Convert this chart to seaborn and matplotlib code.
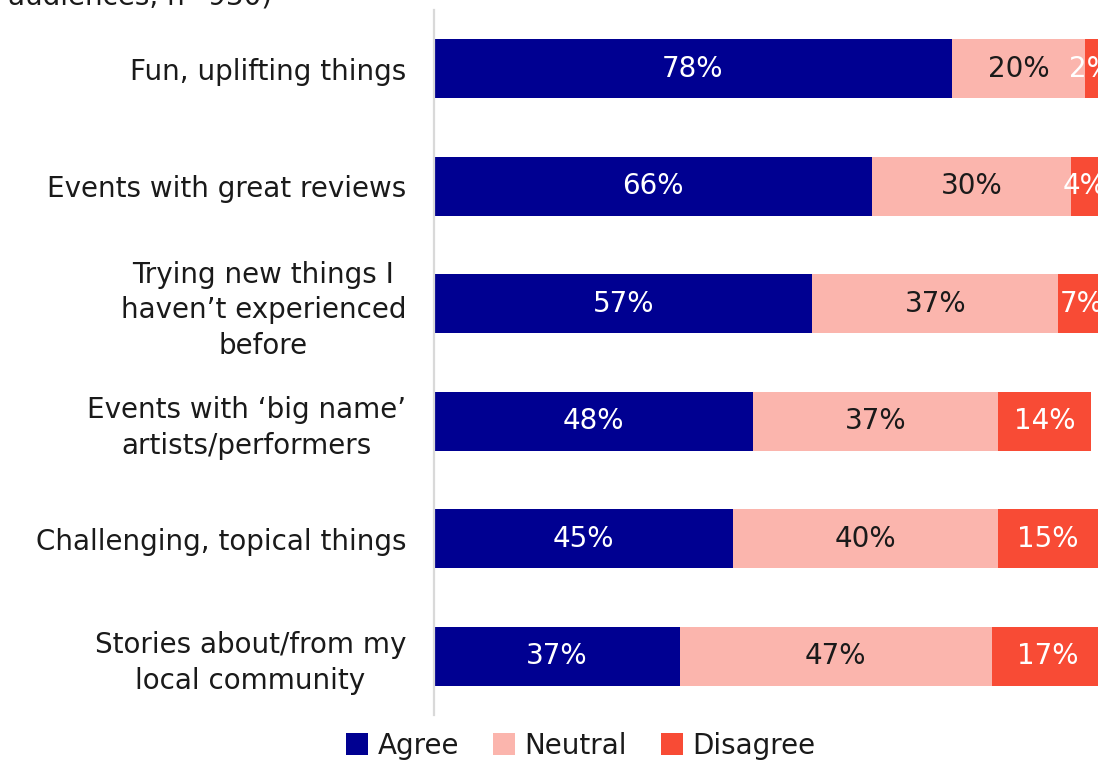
import matplotlib
matplotlib.use("Agg")
import matplotlib.pyplot as plt
from matplotlib.lines import Line2D
import seaborn as sns
import pandas as pd

categories = [
    "Fun, uplifting things",
    "Events with great reviews",
    "Trying new things I\nhaven\u2019t experienced\nbefore",
    "Events with \u2018big name\u2019\nartists/performers",
    "Challenging, topical things",
    "Stories about/from my\nlocal community",
]
agree = [78, 66, 57, 48, 45, 37]
neutral = [20, 30, 37, 37, 40, 47]
disagree = [2, 4, 7, 14, 15, 17]

series_names = ["Agree", "Neutral", "Disagree"]
colors = {"Agree": "#000091", "Neutral": "#fbb5ad", "Disagree": "#f84b35"}
text_colors = {"Agree": "white", "Neutral": "#1a1a1a", "Disagree": "white"}

sns.set_theme(style="white")
plt.rcParams["font.family"] = ["DejaVu Sans"]

df = pd.DataFrame({"category": categories, "Agree": agree,
                   "Neutral": neutral, "Disagree": disagree})
df["cum_agree"] = df["Agree"]
df["cum_neutral"] = df["Agree"] + df["Neutral"]
df["cum_total"] = df["cum_neutral"] + df["Disagree"]

fig = plt.figure(figsize=(11.03, 7.62), dpi=100)
ax = fig.add_axes([434 / 1103, 1 - 715 / 762, (1098 - 434) / 1103, 705 / 762])

# Stacked bars drawn as overlapping cumulative totals
for col, name in [("cum_total", "Disagree"), ("cum_neutral", "Neutral"), ("cum_agree", "Agree")]:
    sns.barplot(data=df, y="category", x=col, order=categories, orient="h",
                color=colors[name], width=0.5, saturation=1, ax=ax, linewidth=0)

ax.set_xlim(0, 100)
ax.set_ylim(5.5, -0.5)
ax.set_xlabel("")
ax.set_ylabel("")
ax.set_xticks([])
ax.tick_params(axis="y", length=0, pad=20, labelsize=20, labelcolor="#1a1a1a")
for lbl in ax.get_yticklabels():
    lbl.set_multialignment("center")
    lbl.set_linespacing(1.33)

for side in ["top", "right", "bottom"]:
    ax.spines[side].set_visible(False)
ax.spines["left"].set_color("#d9d9d9")
ax.spines["left"].set_linewidth(1.6)

# Value labels centred in each segment
for i in range(len(categories)):
    left = 0
    for name, vals in zip(series_names, [agree, neutral, disagree]):
        v = vals[i]
        ax.text(left + v / 2, i, f"{v}%", ha="center", va="center",
                fontsize=20, color=text_colors[name], clip_on=False)
        left += v

# Subtitle line running off the top edge
fig.text(8 / 1103, 1 - 5 / 762, "audiences, n=930)", fontsize=20,
         color="#1a1a1a", ha="left", va="baseline")

handles = [Line2D([0], [0], marker="s", linestyle="", markersize=16,
                  markerfacecolor=colors[n], markeredgewidth=0) for n in series_names]
fig.legend(handles, series_names, loc="center", bbox_to_anchor=(578 / 1103, 1 - 746 / 762),
           ncol=3, frameon=False, fontsize=20, handletextpad=0.15, columnspacing=1.0,
           handlelength=1.2, labelcolor="#1a1a1a")

fig.savefig("out.png", dpi=100)
